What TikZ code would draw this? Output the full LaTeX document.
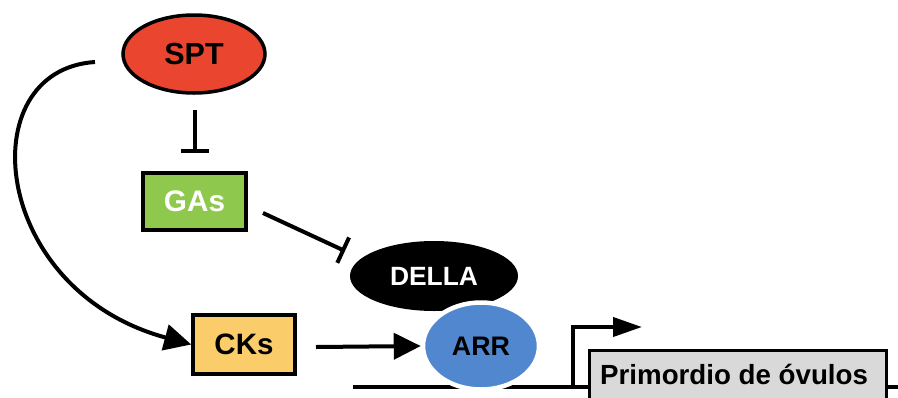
\documentclass[tikz,border=0pt]{standalone}
\usepackage{fontspec}
\setmainfont{Liberation Sans}
\usepackage{tikz}
\usetikzlibrary{arrows.meta, shapes.geometric}
\usetikzlibrary{calc}

\definecolor{sptred}{RGB}{234,69,46}
\definecolor{gasgreen}{RGB}{142,201,77}
\definecolor{ckyellow}{RGB}{250,204,106}
\definecolor{arrblue}{RGB}{80,135,207}
\definecolor{primgray}{RGB}{217,217,217}

\tikzset{
    oval/.style={ellipse, draw=black, line width=3.5pt, inner sep=0pt, font=\bfseries},
    hormone/.style={rectangle, draw=black, line width=3.5pt, inner sep=0pt, font=\bfseries},
    act/.style={line width=4pt, -{Triangle[length=27pt,width=26pt]}},
    inh/.style={line width=4pt, -{Bar[width=28pt]}}
}

\begin{document}
\begin{tikzpicture}[x=1pt, y=-1pt]
        \useasboundingbox (0,0) rectangle (898,397);
        \clip (0,0) rectangle (898,397);
        
        \node[oval, fill=sptred, minimum width=142pt, minimum height=78pt, font=\fontsize{30.5}{32}\bfseries] (spt) at (194,54) {SPT};
        \node[hormone, fill=gasgreen, text=white, minimum width=103pt, minimum height=57pt, font=\fontsize{29.7}{31}\bfseries] (gas) at (194.5,201.5) {GAs};
        \node[hormone, fill=ckyellow, minimum width=102pt, minimum height=59pt, font=\fontsize{29.5}{31}\bfseries] (cks) at (244,344.5) {CKs};
        
        % dna line and promoter
        \coordinate (dnaL) at (353,387);
        \coordinate (dnaR) at (898,387);
        \coordinate (prom) at (573,387);
        \draw[line width=4pt] (dnaL) -- (dnaR);
        \draw[line width=4pt, -{Triangle[length=29pt,width=19pt]}, line join=miter] (prom) |- ++(69,-60);
        
        \node[ellipse, fill=black, minimum width=168pt, minimum height=70pt, inner sep=0pt, text=white, font=\fontsize{26.4}{28}\bfseries] (della) at (434,276) {DELLA};
        \node[ellipse, fill=arrblue, draw=white, line width=4.5pt, minimum width=116pt, minimum height=87pt, inner sep=0pt, font=\fontsize{26.8}{28}\bfseries] (arr) at (481,346) {ARR};
        
        \node[rectangle, draw=black, line width=3pt, fill=primgray, anchor=north west, minimum width=297pt, minimum height=70pt, inner sep=0pt] (prim) at (588,349) {};
        \node[anchor=base west, inner sep=0pt, font=\fontsize{27.7}{29}\bfseries] (primtxt) at (600,384) {Primordio de óvulos};
        
        % regulations
        \coordinate (sptin) at (195,110);
        \coordinate (gasout) at (263,213);
        \coordinate (cksout) at (316,347);
        \coordinate (curvein) at (95,62);
        \draw[inh] (sptin) -- (195,153);
        \draw[inh] (gasout) -- (345,251);
        \draw[act] (cksout) -- (arr.west);
        \draw[act] (curvein) .. controls (-30,70) and (-10,290) .. (cks.west);
        
    \end{tikzpicture}
\end{document}
